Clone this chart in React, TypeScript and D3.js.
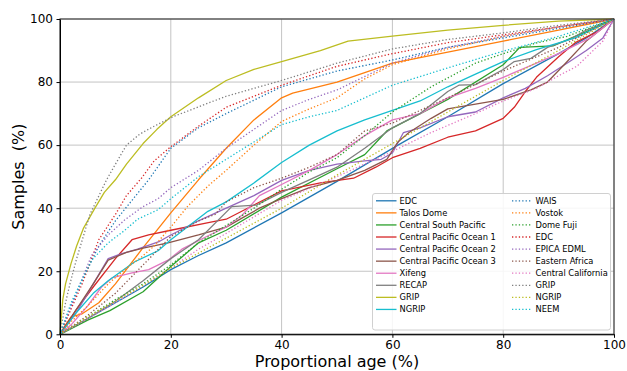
import { useRef, useEffect } from 'react';
import * as d3 from 'd3';

// [proportional age %, samples %]
const edc = [[0,0],[5,5],[10,10],[15,15],[20,20.5],[25,25],[30,29],[40,38.5],[50,48.5],[61,60],[70,69],[80,79.5],[90,89],[95,94],[100,100]];
const talosDome = [[0,0],[1,3],[2,5.5],[4,6.5],[7,10],[10,16],[15,27.5],[20,38.5],[25,49],[30,59],[35,68],[40,75],[42,76.5],[50,80],[60,86],[70,89.5],[80,93],[90,96.5],[100,100]];
const centralSouthPacific = [[0,0],[5,4.5],[9,7.5],[15,13.5],[20,21.5],[25,29],[30,33],[40,43.5],[50,52.5],[55,57],[59,64.5],[70,74.5],[80,85.5],[83,91],[89,91.5],[95,96],[100,100]];
const centralPacific1 = [[0,0],[3,8],[6,15],[10,24],[13,30],[16,31.5],[20,33],[27,35.5],[30,36.5],[35,41],[40,45.5],[47,48],[53,49.5],[57,53],[60,56],[65,59],[70,62.5],[75,64.5],[80,68.5],[82,72],[84,77],[86,81.5],[90,88],[93,92.5],[97,96],[100,100]];
const centralPacific2 = [[0,0],[3,7],[6,16],[8.7,24],[11,25.5],[14,27],[18,29.5],[20,31.5],[25,36],[30,40],[35,44],[40,48.8],[45,52],[50,54],[55,55],[58,55.5],[60,57.5],[62,64],[65,65.5],[70,69],[75,70.5],[80,75],[84,78],[88,82],[92,86.5],[95,90],[98,94],[100,100]];
const centralPacific3 = [[0,0],[3,8],[6,16],[8.7,23.5],[12,26],[15,27.3],[19.5,29],[25,31.5],[30,34],[33,37],[36,40],[40,43],[45,46.5],[50,48.8],[55,52],[59,55.5],[61,61],[63,64],[67,68.5],[70,71.5],[75,73],[80,74.5],[85,77.5],[88,80],[91,85.5],[95,93],[100,100]];
const xifeng = [[0,0],[2,3],[5,9],[7.5,15],[9.5,18],[13,19.5],[16,20.5],[19.5,23.5],[22,27],[27,31.5],[30,34],[33,38],[36,44],[40,47.5],[45,52],[50,57],[55,63],[60,68],[65,70],[70,75],[75,78],[80,81.5],[86,86],[90,89],[95.7,94],[100,100]];
const recap = [[0,0],[5,5],[10,10.5],[15,17],[20,24],[25,30],[31,40.5],[35.5,41],[40,45],[45,49],[50,53],[55,59],[60,65.5],[65,70],[70,77],[72,79],[75,79.2],[80,84],[82,86.5],[85,87.5],[88,91],[92,93.5],[95,96.5],[100,100]];
const grip = [[0,0],[0.5,11],[1,16],[2,22.5],[3,28],[4.2,33.5],[6.3,40],[8,45],[10,49],[12,54],[15,60.5],[17.5,65],[20,69],[25,75],[30,80.5],[35,84],[40,86.5],[47,90],[52,93],[60,94.6],[70,96.5],[80,98],[90,99.3],[100,100]];
const ngrip = [[0,0],[3,7],[6,13],[8.7,17],[13.5,23],[17.7,26.5],[20,30],[23.7,35],[26.7,39],[30,42],[35,48],[40,54.5],[45,60],[50,64.5],[55,68],[60,71],[65,74],[70,78.5],[75,82.5],[80,86.5],[86,90.3],[93,94],[100,100]];

const waisDot = [[0,0],[2,9],[4,17],[7,28],[10,36],[13,42.5],[16,49],[20,59],[25,65.5],[30,70],[40,78.5],[50,83.5],[60,87],[70,91],[80,94],[90,97],[100,100]];
const vostokDot = [[0,0],[2,4],[5,9],[8.7,16],[12,21],[14.7,24.5],[17,28],[20,34],[23,40.5],[26.7,47],[30,52],[35,60],[40,67.5],[45,71.5],[50,75],[55,81],[60,85.5],[70,90.5],[80,94.5],[90,97.5],[100,100]];
const domeFujiDot = [[0,0],[5,5.5],[10,11],[15,16],[20,22],[25,29],[30,34.5],[35,40],[40,46],[45,51.5],[50,56],[55,63],[60,70.5],[67,78.5],[75,86],[80,89],[86,92.4],[91.5,94.5],[100,100]];
const edcDot = [[0,0],[2,8],[4,16],[7,30],[10,38],[12,44],[14.7,49.5],[17,55],[20,59.5],[25,66],[30,72],[40,79],[50,85],[60,89],[70,92.5],[80,95],[90,97.5],[100,100]];
const edmlDot = [[0,0],[2,9],[5.7,25],[8.7,31.5],[11.7,36.3],[15,40.5],[17.7,43],[20,46.5],[25,52],[30,59],[35,65],[40,71],[45,74.5],[50,77.5],[60,86],[70,91],[80,94.5],[90,97.5],[100,100]];
const easternAfricaDot = [[0,0],[5,6],[10,13],[15,22],[20,31],[25,36],[28,38],[30,42],[35,46.5],[40,49.5],[45,53],[50,57],[55,64.5],[60,67],[70,75],[80,83.5],[90,91],[100,100]];
const centralCaliforniaDot = [[0,0],[5,5],[10,10],[15,15.5],[20,21],[25,27],[30,32],[40,42.5],[50,50],[60,58],[67,64],[75,70],[80,74],[86,78],[90,82],[93.3,85],[98,93],[100,100]];
const gripDot = [[0,0],[1,10],[1.8,16],[3,24],[5.4,38],[8.4,49],[11,57],[12,60],[14.4,63.5],[17,66],[20.4,69],[26.7,73.3],[30,75.5],[40,80.5],[50,86],[60,90.5],[70,93.5],[80,95.6],[90,98],[100,100]];
const ngripDot = [[0,0],[5,5.5],[10,10.5],[15,15.5],[20,21],[30,30.5],[40,40],[50,50.5],[60,60.5],[70,70.5],[80,80.5],[90,90],[100,100]];
const neemDot = [[0,0],[2,10],[5.7,23.5],[8.7,29],[11.7,33],[14,36.5],[17.7,39.5],[20,43],[25,50],[30,55.5],[35,61],[40,66.5],[45,69],[50,71],[55,75],[60,79],[70,84.5],[80,89.8],[90,94.5],[100,100]];

const solidNames = ['EDC', 'Talos Dome', 'Central South Pacific', 'Central Pacific Ocean 1', 'Central Pacific Ocean 2', 'Central Pacific Ocean 3', 'Xifeng', 'RECAP', 'GRIP', 'NGRIP'];
const dottedNames = ['WAIS', 'Vostok', 'Dome Fuji', 'EDC', 'EPICA EDML', 'Eastern Africa', 'Central California', 'GRIP', 'NGRIP', 'NEEM'];
const solidSeries = [edc, talosDome, centralSouthPacific, centralPacific1, centralPacific2, centralPacific3, xifeng, recap, grip, ngrip];
const dottedSeries = [waisDot, vostokDot, domeFujiDot, edcDot, edmlDot, easternAfricaDot, centralCaliforniaDot, gripDot, ngripDot, neemDot];
const ticks = [0, 20, 40, 60, 80, 100];

function App() {
  const svgRef = useRef(null);
  const width = 627;
  const height = 371;

  useEffect(() => {
    const margin = { top: 19, right: 13, bottom: 36.7, left: 60 };
    const font = 'DejaVu Sans, sans-serif';
    const svg = d3.select(svgRef.current);
    svg.selectAll('*').remove();

    const x = d3.scaleLinear().domain([0, 100]).range([margin.left, width - margin.right]);
    const y = d3.scaleLinear().domain([0, 100]).range([height - margin.bottom, margin.top]);
    const color = d3.scaleOrdinal().domain(d3.range(10)).range(d3.schemeCategory10);

    // grid
    svg.append('g')
      .selectAll('line')
      .data(ticks)
      .join('line')
      .attr('x1', (d) => x(d)).attr('x2', (d) => x(d))
      .attr('y1', y(0)).attr('y2', y(100))
      .attr('stroke', '#c4c4c4').attr('stroke-width', 1);
    svg.append('g')
      .selectAll('line')
      .data(ticks)
      .join('line')
      .attr('y1', (d) => y(d)).attr('y2', (d) => y(d))
      .attr('x1', x(0)).attr('x2', x(100))
      .attr('stroke', '#c4c4c4').attr('stroke-width', 1);

    const line = d3.line().x((d) => x(d[0])).y((d) => y(d[1]));

    const plot = svg.append('g');
    solidSeries.forEach((s, i) => {
      plot.append('path').attr('d', line(s)).attr('fill', 'none')
        .attr('stroke', color(i)).attr('stroke-width', 1.3).attr('stroke-linejoin', 'round');
    });
    dottedSeries.forEach((s, i) => {
      plot.append('path').attr('d', line(s)).attr('fill', 'none')
        .attr('stroke', color(i)).attr('stroke-width', 1.3)
        .attr('stroke-dasharray', '1.3,2.1');
    });

    // spines
    svg.append('rect')
      .attr('x', x(0)).attr('y', y(100))
      .attr('width', x(100) - x(0)).attr('height', y(0) - y(100))
      .attr('fill', 'none').attr('stroke', '#333').attr('stroke-width', 1.1);

    // axes
    const xAxis = svg.append('g')
      .attr('transform', `translate(0,${y(0)})`)
      .call(d3.axisBottom(x).tickValues(ticks).tickSize(3.5).tickPadding(3).tickSizeOuter(0));
    const yAxis = svg.append('g')
      .attr('transform', `translate(${x(0)},0)`)
      .call(d3.axisLeft(y).tickValues(ticks).tickSize(3.5).tickPadding(3.5).tickSizeOuter(0));
    [xAxis, yAxis].forEach((a) => {
      a.select('.domain').attr('stroke', '#000');
      a.selectAll('line').attr('stroke', '#000');
      a.selectAll('text').attr('font-family', font).attr('font-size', 12).attr('fill', '#000');
    });

    svg.append('text')
      .attr('x', (x(0) + x(100)) / 2).attr('y', 367)
      .attr('text-anchor', 'middle').attr('font-family', font).attr('font-size', 16)
      .text('Proportional age (%)');
    svg.append('text')
      .attr('transform', `translate(24,${(y(0) + y(100)) / 2}) rotate(-90)`)
      .attr('text-anchor', 'middle').attr('font-family', font).attr('font-size', 16)
      .style('white-space', 'pre')
      .text('Samples  (%)');

    // legend
    const legend = svg.append('g');
    legend.append('rect')
      .attr('x', 372.5).attr('y', 193.5).attr('width', 238).attr('height', 136.5)
      .attr('rx', 2.5).attr('fill', 'white').attr('fill-opacity', 0.85)
      .attr('stroke', '#d0d0d0').attr('stroke-width', 1);
    const cols = [
      { names: solidNames, x0: 376, x1: 396.5, tx: 399.5, dash: null },
      { names: dottedNames, x0: 512, x1: 531, tx: 535.5, dash: '1.3,2.1' },
    ];
    cols.forEach((c) => {
      c.names.forEach((n, i) => {
        const cy = 200.8 + i * 12.07;
        const l = legend.append('line')
          .attr('x1', c.x0).attr('x2', c.x1).attr('y1', cy).attr('y2', cy)
          .attr('stroke', color(i)).attr('stroke-width', 1.3);
        if (c.dash) l.attr('stroke-dasharray', c.dash);
        legend.append('text')
          .attr('x', c.tx).attr('y', cy + 3)
          .attr('font-family', font).attr('font-size', 8.3).attr('fill', '#000')
          .text(n);
      });
    });
  }, []);

  return (
    <svg ref={svgRef} width={width} height={height}
      style={{ position: 'absolute', left: 0, top: 0, background: 'white' }}></svg>
  );
}

export default App;
